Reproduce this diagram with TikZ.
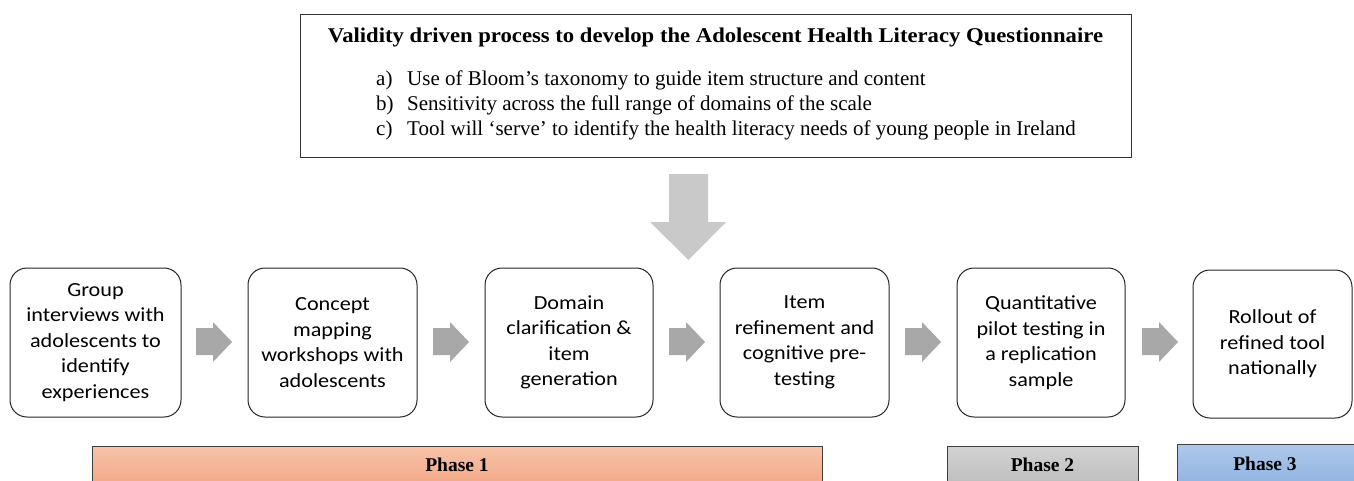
\documentclass[tikz,border=0pt]{standalone}
\usepackage{fontspec}
\setmainfont{Liberation Serif}
\newfontfamily\boxfont[FakeStretch=1.11]{Carlito}
\newfontfamily\titlefont[FakeStretch=1.08]{Liberation Serif}
\definecolor{arrowgray}{HTML}{A8A8A8}
\definecolor{downgray}{HTML}{C9C9C9}
\definecolor{ph1top}{HTML}{F7C3A8}
\definecolor{ph1bot}{HTML}{F3A687}
\definecolor{ph2top}{HTML}{D2D2D2}
\definecolor{ph2bot}{HTML}{BDBDBD}
\definecolor{ph3top}{HTML}{ADC8EA}
\definecolor{ph3bot}{HTML}{8FB3E0}
\begin{document}
\begin{tikzpicture}[x=1pt,y=-1pt,
  stepbox/.style={draw=black!85, line width=1pt, rounded corners=17pt, align=center,
    font=\boxfont\fontsize{20}{25.5}\selectfont, inner sep=0pt},
  phasebar/.style={draw=black!75, line width=1pt, inner sep=0pt},
  phaselabel/.style={font=\bfseries\fontsize{19.5}{22}\selectfont, anchor=base},
  itemtext/.style={anchor=base west, font=\fontsize{21}{25}\selectfont, inner sep=0pt}]
\clip (0,0) rectangle (1354,480);
\fill[white] (0,0) rectangle (1354,480);
% top box
\node[draw=black!80, line width=1pt, minimum width=831pt, minimum height=143pt, inner sep=0pt] (top) at (715.5,85.5) {};
\node[font=\titlefont\bfseries\fontsize{21}{24}\selectfont, anchor=base] (title) at (715.5,42) {Validity driven process to develop the Adolescent Health Literacy Questionnaire};
\node[itemtext] (la) at (376,85) {a)};
\node[itemtext] (ta) at (407,85) {Use of Bloom's taxonomy to guide item structure and content};
\node[itemtext] (lb) at (376,110) {b)};
\node[itemtext] (tb) at (407,110) {Sensitivity across the full range of domains of the scale};
\node[itemtext] (lc) at (376,135) {c)};
\node[itemtext] (tc) at (407,135) {Tool will `serve' to identify the health literacy needs of young people in Ireland};
% down arrow
\fill[downgray] (669,174) -- (708,174) -- (708,222) -- (726,222) -- (688.5,260) -- (650,222) -- (669,222) -- cycle;
% step boxes
\node[stepbox, minimum width=171pt, minimum height=149pt] (b1) at (95.5,342.5) {Group\\interviews with\\adolescents to\\identify\\experiences};
\node[stepbox, minimum width=169pt, minimum height=149pt] (b2) at (332.5,342.5) {Concept\\mapping\\workshops with\\adolescents};
\node[stepbox, minimum width=168pt, minimum height=149pt] (b3) at (569,342.5) {Domain\\clarification \&\\item\\generation};
\node[stepbox, minimum width=169pt, minimum height=149pt] (b4) at (804.5,342.5) {Item\\refinement and\\cognitive pre-\\testing};
\node[stepbox, minimum width=168pt, minimum height=149pt] (b5) at (1041,342.5) {Quantitative\\pilot testing in\\a replication\\sample};
\node[stepbox, minimum width=159pt, minimum height=148pt] (b6) at (1272.5,344) {Rollout of\\refined tool\\nationally};
% block arrows between boxes
\foreach \xa in {196,433,669,905,1142}{
  \fill[arrowgray] (\xa,328) -- (\xa+17,328) -- (\xa+17,322) -- (\xa+36,342) -- (\xa+17,362) -- (\xa+17,355) -- (\xa,355) -- cycle;
}
% phase bars
\node[phasebar, top color=ph1top, bottom color=ph1bot, minimum width=730pt, minimum height=40pt, anchor=north west] (p1) at (92,446) {};
\node[phaselabel] (p1l) at (457,471) {Phase 1};
\node[phasebar, top color=ph2top, bottom color=ph2bot, minimum width=191pt, minimum height=40pt, anchor=north west] (p2) at (947,446) {};
\node[phaselabel] (p2l) at (1042.5,471) {Phase 2};
\node[phasebar, top color=ph3top, bottom color=ph3bot, minimum width=180pt, minimum height=42pt, anchor=north west] (p3) at (1177,444) {};
\node[phaselabel] (p3l) at (1265,470) {Phase 3};
\end{tikzpicture}
\end{document}
